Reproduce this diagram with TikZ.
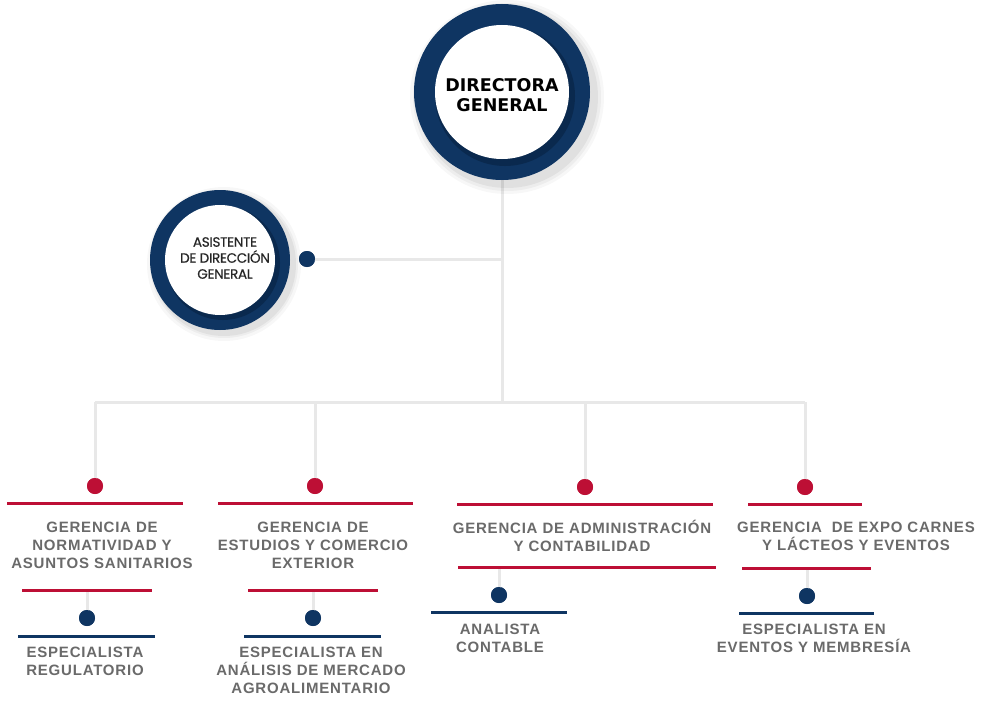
\documentclass[tikz,border=0pt]{standalone}
\usepackage{fontspec}
\setmainfont{Liberation Sans}
\newfontfamily\gerfont[LetterSpace=5.3]{Liberation Sans}
\newfontfamily\dirfont{DejaVu Sans}
\newfontfamily\asfont[FakeBold=0.5,LetterSpace=-2]{Poppins}
\definecolor{navy}{HTML}{0F3562}
\definecolor{navydk}{HTML}{06203F}
\definecolor{crim}{HTML}{BD0F35}
\definecolor{txtg}{HTML}{6A6A6A}
\definecolor{lineg}{HTML}{E8E8E8}
\tikzset{
  conn/.style={draw=lineg, line width=3pt},
  reddot/.style={circle, fill=crim, inner sep=0pt, minimum size=16pt},
  bluedot/.style={circle, fill=navy, inner sep=0pt, minimum size=16pt},
  redbar/.style={draw=crim, line width=3pt},
  bluebar/.style={draw=navy, line width=3pt},
  gtext/.style={text=txtg, font={\gerfont\bfseries\fontsize{15}{18}\selectfont}, align=center, inner sep=0pt},
}
\begin{document}
\begin{tikzpicture}[x=1pt,y=-1pt]
\useasboundingbox (0,0) rectangle (994,725);
\fill[white] (0,0) rectangle (994,725);

% junction coordinates
\coordinate (jA) at (502,259);
\coordinate (jB) at (502,402);
\coordinate (h1) at (95,402);
\coordinate (h2) at (315,402);
\coordinate (h3) at (585,402);
\coordinate (h4) at (805,402);

% invisible shape nodes for circles
\node[circle, minimum size=176pt, inner sep=0pt] (dir) at (502,92) {};
\node[circle, minimum size=140pt, inner sep=0pt] (asis) at (220,260) {};

% dots
\node[bluedot] (adot) at (307,259) {};
\node[reddot] (rd1) at (95,486) {};
\node[reddot] (rd2) at (315,486) {};
\node[reddot] (rd3) at (585,487) {};
\node[reddot] (rd4) at (805,487) {};
\node[bluedot] (bd1) at (87,618) {};
\node[bluedot] (bd2) at (313,618) {};
\node[bluedot] (bd3) at (499,595) {};
\node[bluedot] (bd4) at (807,596) {};

% bar anchor coordinates for lower connectors
\coordinate (lr1) at (87,590);
\coordinate (lr2) at (313,590);
\coordinate (lr3) at (499,567);
\coordinate (lr4) at (807,568);

% connectors
\draw[conn] (dir.south) -- (jB);
\draw[conn] (adot.center) -- (jA);
\draw[conn] (h1) -- (h4);
\draw[conn] (h1) -- (rd1.center);
\draw[conn] (h2) -- (rd2.center);
\draw[conn] (h3) -- (rd3.center);
\draw[conn] (h4) -- (rd4.center);
\draw[conn] (lr1) -- (bd1.center);
\draw[conn] (lr2) -- (bd2.center);
\draw[conn] (lr3) -- (bd3.center);
\draw[conn] (lr4) -- (bd4.center);

% redraw dots on top of connectors
\foreach \n in {adot,bd1,bd2,bd3,bd4} \fill[navy] (\n.center) circle[radius=8];
\foreach \n in {rd1,rd2,rd3,rd4} \fill[crim] (\n.center) circle[radius=8];

% Directora circle
\foreach \r/\o in {97/0.03,94/0.04,91/0.05} \fill[black,opacity=\o] (507,97) circle[radius=\r];
\fill[navy] (dir.center) circle[radius=88];
\fill[navydk,opacity=0.55] (505,96) circle[radius=70];
\fill[white] (dir.center) circle[radius=67];
\node[font={\dirfont\bfseries\fontsize{17.5}{20}\selectfont}, align=center, inner sep=0pt, text=black] (dirt) at (502,95) {DIRECTORA\\GENERAL};

% Asistente circle
\foreach \r/\o in {77/0.03,74/0.04,72/0.05} \fill[black,opacity=\o] (224,264) circle[radius=\r];
\fill[navy] (asis.center) circle[radius=70];
\fill[navydk,opacity=0.55] (223,263) circle[radius=57];
\fill[white] (asis.center) circle[radius=55];
\node[font={\asfont\fontsize{13.5}{16}\selectfont}, align=center, inner sep=0pt, text=black!85] (asist) at (225,258) {ASISTENTE\\DE DIRECCIÓN\\GENERAL};

% bars
\draw[redbar] (7,503) -- (183,503);
\draw[redbar] (218,503) -- (413,503);
\draw[redbar] (457,504) -- (713,504);
\draw[redbar] (748,504) -- (862,504);
\draw[redbar] (22,590) -- (152,590);
\draw[redbar] (248,590) -- (378,590);
\draw[redbar] (458,567) -- (716,567);
\draw[redbar] (742,568) -- (871,568);
\draw[bluebar] (18,636) -- (155,636);
\draw[bluebar] (244,636) -- (381,636);
\draw[bluebar] (431,612) -- (567,612);
\draw[bluebar] (739,613) -- (874,613);

% texts
\node[gtext] (g1) at (102,545) {GERENCIA DE\\NORMATIVIDAD Y\\ASUNTOS SANITARIOS};
\node[gtext] (g2) at (313,545) {GERENCIA DE\\ESTUDIOS Y COMERCIO\\EXTERIOR};
\node[gtext] (g3) at (582,536) {GERENCIA DE ADMINISTRACIÓN\\Y CONTABILIDAD};
\node[gtext] (g4) at (856,536) {GERENCIA\ \ DE EXPO CARNES\\Y LÁCTEOS Y EVENTOS};
\node[gtext] (e1) at (85,661) {ESPECIALISTA\\REGULATORIO};
\node[gtext] (e2) at (311,670) {ESPECIALISTA EN\\ANÁLISIS DE MERCADO\\AGROALIMENTARIO};
\node[gtext] (e3) at (500,638) {ANALISTA\\CONTABLE};
\node[gtext] (e4) at (814,638) {ESPECIALISTA EN\\EVENTOS Y MEMBRESÍA};
\end{tikzpicture}
\end{document}
